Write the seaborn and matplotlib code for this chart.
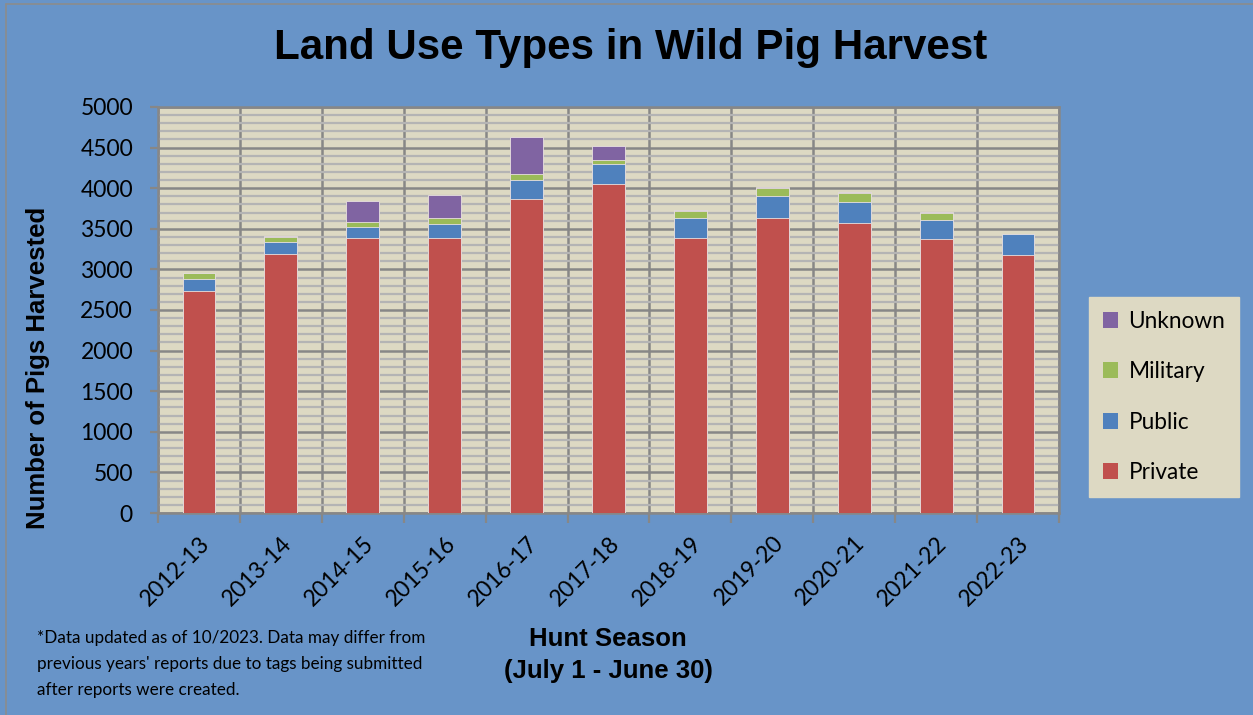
import numpy as np
import pandas as pd
import seaborn as sns
import matplotlib.pyplot as plt
from matplotlib.patches import Patch
from matplotlib.ticker import MultipleLocator, FixedLocator

# Data
seasons = ["2012-13", "2013-14", "2014-15", "2015-16", "2016-17", "2017-18",
           "2018-19", "2019-20", "2020-21", "2021-22", "2022-23"]
private = [2730, 3185, 3390, 3390, 3870, 4055, 3390, 3630, 3575, 3370, 3180]
public = [150, 155, 130, 175, 230, 240, 245, 280, 255, 240, 260]
military = [70, 60, 65, 65, 75, 55, 80, 90, 105, 85, 0]
unknown = [0, 10, 255, 290, 460, 175, 12, 20, 15, 8, 0]

series = ["Private", "Public", "Military", "Unknown"]
colors = {"Private": "#C0504D", "Public": "#4F81BD", "Military": "#9BBB59", "Unknown": "#8064A2"}

df = pd.DataFrame({"season": seasons, "Private": private, "Public": public,
                   "Military": military, "Unknown": unknown})
# cumulative tops for stacking
cum = df[series].cumsum(axis=1)
cum["season"] = df["season"]

sns.set_style("white")
plt.rcParams["font.family"] = ["Lato", "DejaVu Sans"]
for k in ["text.color", "axes.labelcolor", "xtick.labelcolor", "ytick.labelcolor"]:
    plt.rcParams[k] = "black"

bg = "#6894C8"
fig = plt.figure(figsize=(12.53, 7.15), dpi=100, facecolor=bg)
ax = fig.add_axes([158/1253, 1-513/715, (1059-158)/1253, (513-107)/715])
ax.set_facecolor("#DDD9C3")

# draw tallest first so lower segments sit on top
for s in reversed(series):
    sns.barplot(data=cum, x="season", y=s, color=colors[s], width=0.4,
                saturation=1, edgecolor="#E8E0E0", linewidth=0.6, ax=ax, zorder=3)

ax.set_xlim(-0.5, len(seasons) - 0.5)
ax.set_ylim(0, 5000)

# grid
ax.yaxis.set_major_locator(MultipleLocator(500))
ax.yaxis.set_minor_locator(MultipleLocator(100))
ax.xaxis.set_minor_locator(FixedLocator(np.arange(-0.5, len(seasons), 1.0)))
ax.grid(which="minor", axis="y", color="#B4B4B4", linewidth=1.6, zorder=1)
ax.grid(which="major", axis="y", color="#878787", linewidth=1.8, zorder=2)
ax.grid(which="minor", axis="x", color="#878787", linewidth=1.8, zorder=2)
ax.set_axisbelow(True)
for sp in ax.spines.values():
    sp.set_color("#878787")
    sp.set_linewidth(1.8)

ax.tick_params(axis="y", which="major", length=6, width=1.6, color="#878787",
               labelsize=16.5, pad=12, left=True)
ax.tick_params(axis="y", which="minor", length=0)
ax.tick_params(axis="x", which="major", length=0, labelsize=16.5, pad=14)
ax.tick_params(axis="x", which="minor", length=7, width=1.6, color="#878787", bottom=True)
ax.set_xticks(range(len(seasons)))
ax.set_xticklabels(seasons, rotation=45, ha="right", rotation_mode="anchor")

ax.set_ylabel("Number of Pigs Harvested", fontsize=18.5, fontweight="bold",
              family="Liberation Sans")
ax.yaxis.set_label_coords((50-158)/901, (513-368)/406)
ax.set_xlabel("")

fig.text(608/1253, 1-655/715, "Hunt Season\n(July 1 - June 30)", ha="center", va="center",
         fontsize=18.5, fontweight="bold", family="Liberation Sans", linespacing=1.37)
fig.text(631/1253, 1-48/715, "Land Use Types in Wild Pig Harvest", ha="center", va="center",
         fontsize=30.3, fontweight="bold", family="Liberation Sans")
fig.text(37/1253, 1-664/715,
         "*Data updated as of 10/2023. Data may differ from\n"
         "previous years' reports due to tags being submitted\n"
         "after reports were created.",
         ha="left", va="center", fontsize=12.3, linespacing=1.75)

handles = [Patch(facecolor=colors[s], edgecolor="none", label=s) for s in reversed(series)]
leg = fig.legend(handles=handles, loc="center left", bbox_to_anchor=(1089/1253, 1-397/715),
                 frameon=True, framealpha=1, fontsize=16.3, handlelength=0.7, handleheight=0.7,
                 handletextpad=0.45, labelspacing=1.3, borderpad=0.6, borderaxespad=0,
                 fancybox=False)
leg.get_frame().set_facecolor("#DDD9C3")
leg.get_frame().set_edgecolor("#DDD9C3")

# thin border at top/left like the screenshot
fig.add_artist(plt.Line2D([6/1253, 6/1253], [0, 1-4/715], transform=fig.transFigure,
                          color="#8C8C8C", linewidth=1.2))
fig.add_artist(plt.Line2D([6/1253, 1], [1-4/715, 1-4/715], transform=fig.transFigure,
                          color="#8C8C8C", linewidth=1.2))

fig.savefig("out.png", dpi=100, facecolor=bg)
